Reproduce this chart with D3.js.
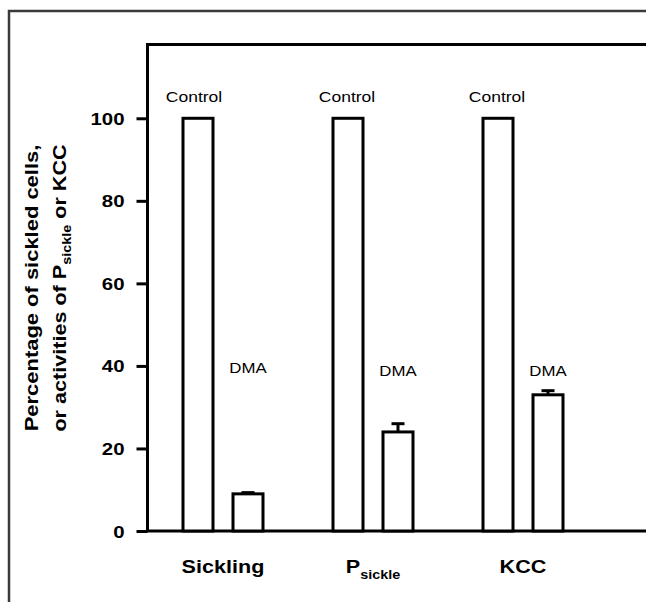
<!DOCTYPE html>
<html>
<head>
<meta charset="utf-8">
<script src="https://cdn.jsdelivr.net/npm/d3@7"></script>
<style>
  body { margin: 0; background: #fff; }
  text { font-family: "Liberation Sans", Arial, sans-serif; }
</style>
</head>
<body>
<script>
// data
var groups = ["Sickling", "Psickle", "KCC"];
var series = ["Control", "DMA"];
var controlValues = [100, 100, 100];
var dmaValues = [9, 24, 33];
var dmaErrors = [0.3, 2, 1];
var yTicks = [0, 20, 40, 60, 80, 100];

var width = 646, height = 602;

var svg = d3.select("body").append("svg")
    .attr("width", width)
    .attr("height", height);

svg.append("rect").attr("width", width).attr("height", height).attr("fill", "#fff");

// outer frame (runs off the right and bottom edges)
svg.append("rect")
    .attr("x", 9).attr("y", 11)
    .attr("width", 700).attr("height", 700)
    .attr("fill", "none")
    .attr("stroke", "#3a3a3a")
    .attr("stroke-width", 2.5);

var y = d3.scaleLinear().domain([0, 118]).range([531, 44]);
var x0 = d3.scaleBand().domain(groups).range([148, 598]);
var x1 = d3.scaleBand().domain(series).range([35, 115]).paddingInner(0.4);

// text that is a bit wider than plain Arial, like in the picture
function wideText(parent, str, tx, ty, size, weight, sx, rot) {
  var t = parent.append("text")
      .attr("transform", "translate(" + tx + "," + ty + ")" + (rot ? " rotate(" + rot + ")" : "") + " scale(" + sx + ",1)")
      .attr("text-anchor", "middle")
      .attr("font-size", size)
      .attr("font-weight", weight)
      .attr("fill", "#000");
  if (str !== null) t.text(str);
  return t;
}

// plot box
svg.append("rect")
    .attr("x", 147.5).attr("y", 44.5)
    .attr("width", 600).attr("height", 486.5)
    .attr("fill", "none")
    .attr("stroke", "#000")
    .attr("stroke-width", 3);

// y axis
var yAxis = svg.append("g")
    .attr("transform", "translate(147.5,0)")
    .call(d3.axisLeft(y).tickValues(yTicks).tickSize(11).tickPadding(12).tickSizeOuter(0));
yAxis.select(".domain").remove();
yAxis.selectAll(".tick line").attr("stroke", "#000").attr("stroke-width", 3);
yAxis.selectAll(".tick text").remove();
yAxis.selectAll(".tick").each(function(d) {
  wideText(d3.select(this), String(d), -23, 6, 17, "bold", 1.2).attr("text-anchor", "end");
});

// bars
var rows = groups.map(function(g, i) {
  return [
    {group: g, s: "Control", v: controlValues[i], e: 0},
    {group: g, s: "DMA", v: dmaValues[i], e: dmaErrors[i]}
  ];
});
var flat = [].concat.apply([], rows);

svg.selectAll(".bar")
    .data(flat)
    .enter().append("rect")
    .attr("class", "bar")
    .attr("x", function(d) { return x0(d.group) + x1(d.s); })
    .attr("y", function(d) { return y(d.v); })
    .attr("width", x1.bandwidth())
    .attr("height", function(d) { return y(0) - y(d.v); })
    .attr("fill", "#fff")
    .attr("stroke", "#000")
    .attr("stroke-width", 3);

// error bars (upper half only)
var errs = flat.filter(function(d) { return d.e > 0; });
svg.selectAll(".err")
    .data(errs)
    .enter().append("line")
    .attr("x1", function(d) { return x0(d.group) + x1(d.s) + x1.bandwidth() / 2; })
    .attr("x2", function(d) { return x0(d.group) + x1(d.s) + x1.bandwidth() / 2; })
    .attr("y1", function(d) { return y(d.v); })
    .attr("y2", function(d) { return y(d.v + d.e); })
    .attr("stroke", "#000").attr("stroke-width", 3);
svg.selectAll(".cap")
    .data(errs)
    .enter().append("line")
    .attr("x1", function(d) { return x0(d.group) + x1(d.s) + x1.bandwidth() / 2 - 6.5; })
    .attr("x2", function(d) { return x0(d.group) + x1(d.s) + x1.bandwidth() / 2 + 6.5; })
    .attr("y1", function(d) { return y(d.v + d.e); })
    .attr("y2", function(d) { return y(d.v + d.e); })
    .attr("stroke", "#000").attr("stroke-width", 3);

// bar labels
groups.forEach(function(g, i) {
  var cx = x0(g) + x1("Control") + x1.bandwidth() / 2;
  wideText(svg, "Control", cx - (i === 0 ? 4 : 1), y(104), 14, "normal", 1.25);
  var dx = x0(g) + x1("DMA") + x1.bandwidth() / 2;
  wideText(svg, "DMA", dx, y(37.5) - (i === 0 ? 3 : 0), 14, "normal", 1.2);
});

// category labels
wideText(svg, "Sickling", x0("Sickling") + x0.bandwidth() / 2, 573, 18, "bold", 1.2);
var p = wideText(svg, null, x0("Psickle") + x0.bandwidth() / 2, 573, 18, "bold", 1.2);
p.append("tspan").text("P");
p.append("tspan").attr("font-size", 12).attr("dy", 6).text("sickle");
wideText(svg, "KCC", x0("KCC") + x0.bandwidth() / 2, 573, 18, "bold", 1.2);

// y label, two lines
wideText(svg, "Percentage of sickled cells,", 37.5, 288, 18, "bold", 1.22, -90);
var l2 = wideText(svg, null, 66, 288, 18, "bold", 1.2, -90);
l2.append("tspan").text("or activities of P");
l2.append("tspan").attr("font-size", 12).attr("dy", 5).text("sickle");
l2.append("tspan").attr("dy", -5).text(" or KCC");
</script>
</body>
</html>
